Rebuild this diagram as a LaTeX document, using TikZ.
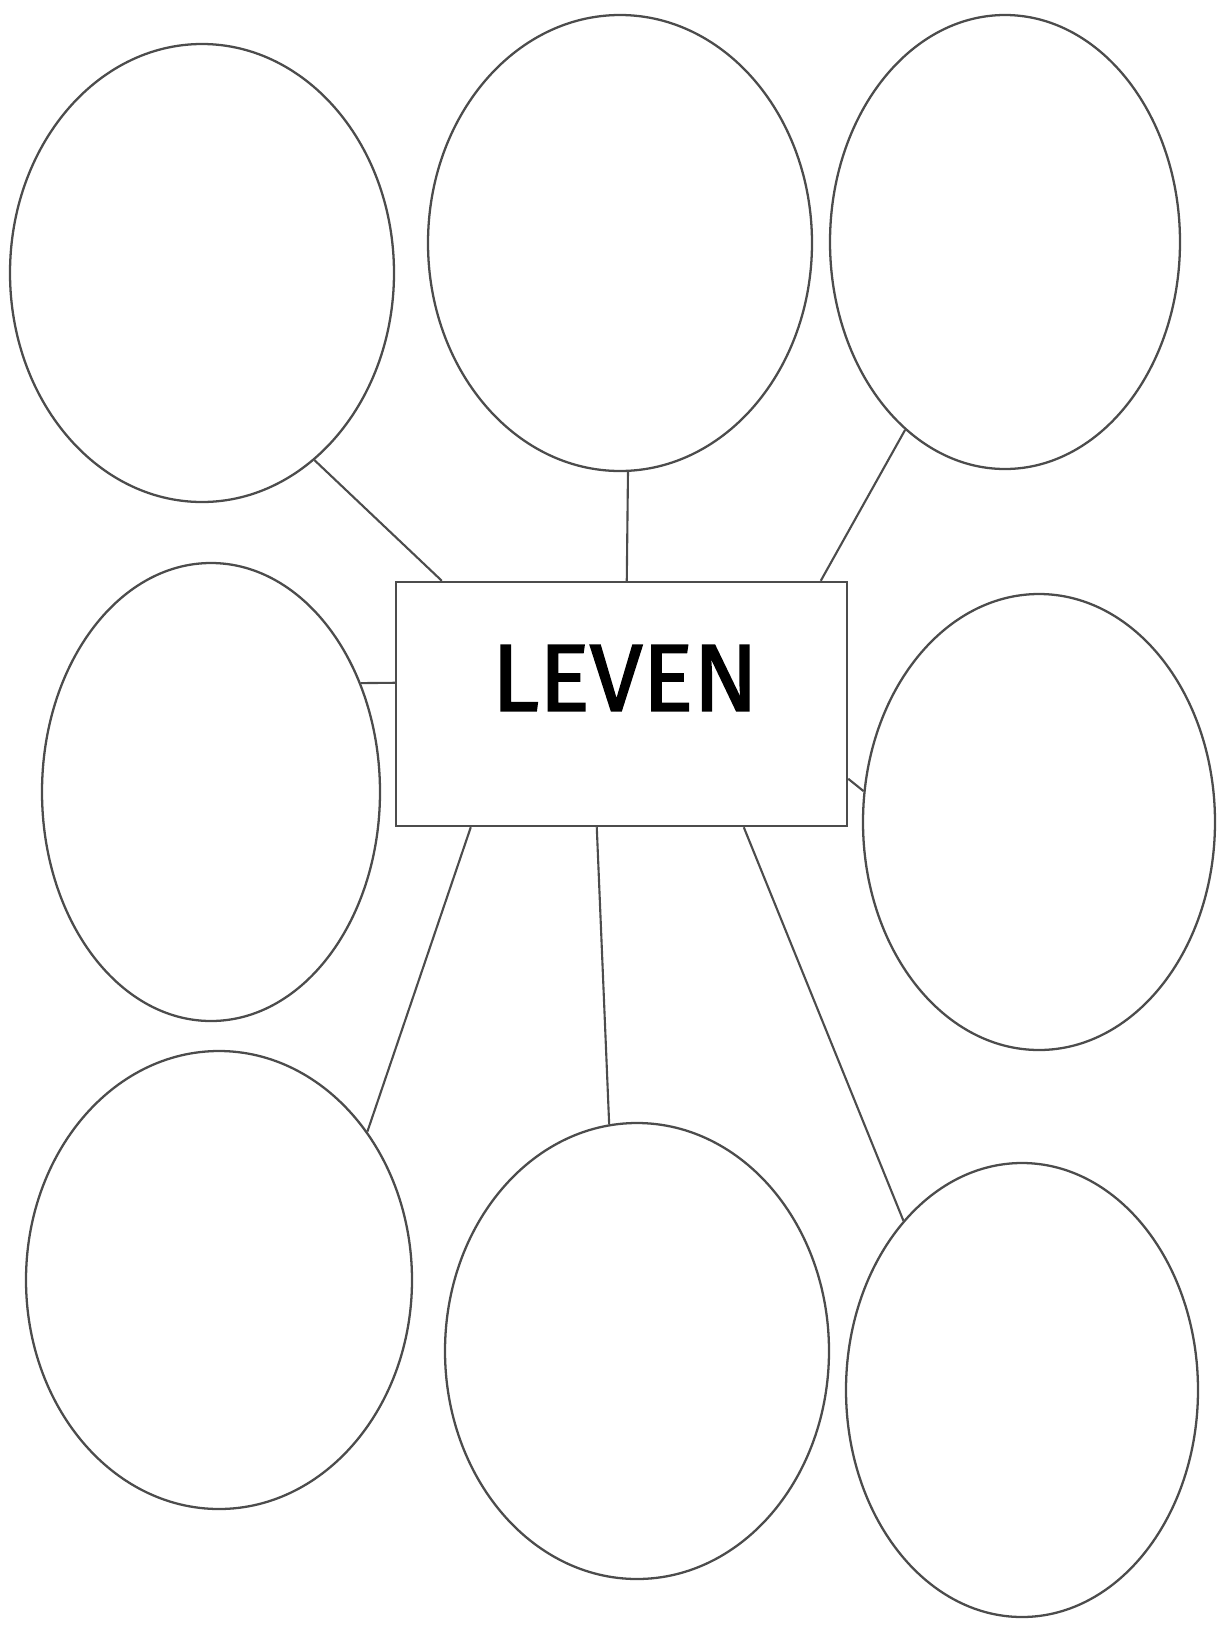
\documentclass[tikz,border=0pt]{standalone}
\usepackage{fontspec}
\newfontfamily\wordfont[FakeBold=1.8]{Fira Sans}
\usetikzlibrary{positioning, calc, shapes.geometric}

\begin{document}
\begin{tikzpicture}[
   x=0.02cm, y=-0.02cm,
   bubble/.style={draw=black!70, line width=1.3pt, ellipse, inner sep=0pt},
   box/.style={draw=black!70, line width=1.4pt, rectangle, inner sep=0pt,
               minimum width=451*0.02cm, minimum height=244*0.02cm},
   title/.style={font=\wordfont\fontsize{54}{60}\selectfont, inner sep=0pt},
   link/.style={draw=black!70, line width=1.2pt}]

  \useasboundingbox (0,0) rectangle (1224,1627);

  % centre box
  \node[box] (box) at (621.5,704) {};
  \node[title] (word) at (625,678) {LEVEN};

  % bubbles, top row
  \node[bubble, minimum width=384*0.02cm, minimum height=458*0.02cm] (tl) at (202,273) {};
  \node[bubble, minimum width=384*0.02cm, minimum height=456*0.02cm] (tm) at (620,243) {};
  \node[bubble, minimum width=350*0.02cm, minimum height=454*0.02cm] (tr) at (1005,242) {};
  % middle row
  \node[bubble, minimum width=338*0.02cm, minimum height=458*0.02cm] (ml) at (211,792) {};
  \node[bubble, minimum width=352*0.02cm, minimum height=456*0.02cm] (mr) at (1039,822) {};
  % bottom row
  \node[bubble, minimum width=386*0.02cm, minimum height=458*0.02cm] (bl) at (219,1280) {};
  \node[bubble, minimum width=384*0.02cm, minimum height=456*0.02cm] (bm) at (637,1351) {};
  \node[bubble, minimum width=352*0.02cm, minimum height=454*0.02cm] (br) at (1022,1390) {};

  % connectors
  \draw[link] (tl.-59)  -- ($(box.north west)+(47,0)$);
  \draw[link] (tm.-88)  -- ($(box.north west)+(232,0)$);
  \draw[link] (tr.-118) -- ($(box.north west)+(426,0)$);
  \draw[link] (ml.36)   -- ($(box.north west)+(0,102)$);
  \draw[link] (mr.170)  -- ($(box.north east)+(0,198)$);
  \draw[link] (bl.45)   -- ($(box.south west)+(76,0)$);
  \draw[link] (bm.97)   -- ($(box.south west)+(202,0)$);
  \draw[link] (br.125)  -- ($(box.south west)+(349,0)$);
\end{tikzpicture}
\end{document}
